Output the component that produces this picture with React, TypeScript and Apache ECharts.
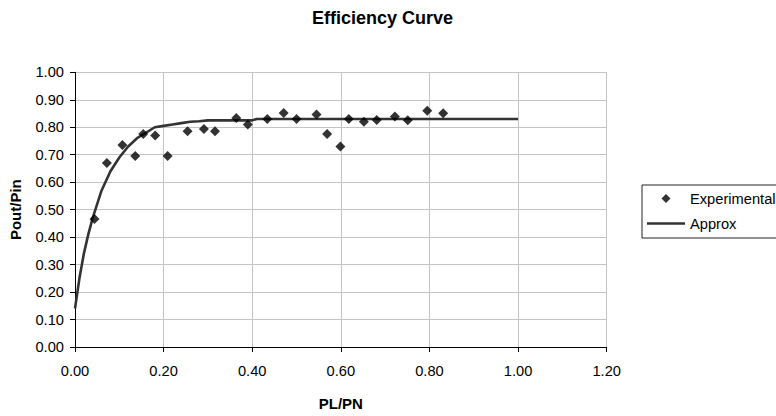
import React, { useEffect, useRef } from "react";
import * as echarts from "echarts";

const chartTitle = "Efficiency Curve";
const xAxisName = "PL/PN";
const yAxisName = "Pout/Pin";

const expX = [0.044, 0.072, 0.107, 0.136, 0.154, 0.181, 0.209, 0.254, 0.291, 0.316, 0.364, 0.39, 0.434, 0.471, 0.5, 0.545, 0.569, 0.599, 0.618, 0.652, 0.681, 0.722, 0.751, 0.795, 0.831];
const expY = [0.466, 0.67, 0.735, 0.695, 0.775, 0.77, 0.695, 0.785, 0.794, 0.785, 0.834, 0.81, 0.83, 0.852, 0.83, 0.846, 0.775, 0.73, 0.83, 0.82, 0.826, 0.839, 0.825, 0.86, 0.851];

const approxX = [0, 0.01, 0.02, 0.03, 0.04, 0.05, 0.06, 0.08, 0.1, 0.12, 0.14, 0.16, 0.18, 0.2, 0.22, 0.24, 0.26, 0.28, 0.3, 0.35, 0.4, 0.41, 0.5, 0.6, 0.7, 0.8, 0.9, 1.0];
const approxY = [0.14, 0.25, 0.34, 0.41, 0.47, 0.52, 0.57, 0.64, 0.69, 0.73, 0.76, 0.78, 0.8, 0.805, 0.81, 0.815, 0.82, 0.822, 0.825, 0.825, 0.825, 0.83, 0.83, 0.83, 0.83, 0.83, 0.83, 0.83];

const FONT = "Liberation Sans, Arial, sans-serif";
const FS = 14.67;

export default function App() {
  const ref = useRef<HTMLDivElement>(null);
  useEffect(() => {
    if (!ref.current) return;
    const chart = echarts.init(ref.current, null, { renderer: "svg" });
    chart.setOption({
      animation: false,
      backgroundColor: "#ffffff",
      textStyle: { fontFamily: FONT },
      title: {
        text: chartTitle,
        left: 312,
        top: 9,
        padding: 0,
        textStyle: { fontFamily: FONT, fontSize: 18, fontWeight: "bold", color: "#000" },
      },
      grid: { left: 72.7, right: 169.3, top: 72.3, bottom: 61.7, containLabel: false },
      legend: {
        orient: "vertical",
        left: 642,
        top: 185,
        itemWidth: 38,
        itemHeight: 9,
        itemGap: 10,
        padding: [6, 12, 7, 5],
        borderColor: "#222",
        borderWidth: 1,
        borderRadius: 0,
        symbolKeepAspect: true,
        textStyle: { fontFamily: FONT, fontSize: FS, color: "#000" },
        data: [
          { name: "Experimental", icon: "path://M5,0 L10,5 L5,10 L0,5 Z", itemStyle: { color: "#000" } },
          { name: "Approx", icon: "path://M0,0 L40,0 L40,2.6 L0,2.6 Z", itemStyle: { color: "#333" } },
        ],
      },
      xAxis: {
        type: "value",
        min: 0,
        max: 1.2,
        interval: 0.2,
        name: xAxisName,
        nameLocation: "middle",
        nameGap: 49,
        nameTextStyle: { fontFamily: FONT, fontSize: 15, fontWeight: "bold", color: "#000" },
        axisLine: { lineStyle: { color: "#000", width: 1 } },
        axisTick: { show: true, inside: false, length: 5, lineStyle: { color: "#000" } },
        axisLabel: { color: "#000", fontSize: FS, margin: 16, formatter: (v: number) => v.toFixed(2) },
        splitLine: { show: true, lineStyle: { color: "#c4c4c4", width: 1 } },
      },
      yAxis: {
        type: "value",
        min: 0,
        max: 1,
        interval: 0.1,
        name: yAxisName,
        nameLocation: "middle",
        nameGap: 52,
        nameRotate: 90,
        nameTextStyle: { fontFamily: FONT, fontSize: 15, fontWeight: "bold", color: "#000" },
        axisLine: { show: true, lineStyle: { color: "#000", width: 1 } },
        axisTick: { show: true, inside: false, length: 5, lineStyle: { color: "#000" } },
        axisLabel: { color: "#000", fontSize: FS, margin: 11, formatter: (v: number) => v.toFixed(2) },
        splitLine: { show: true, lineStyle: { color: "#c4c4c4", width: 1 } },
      },
      series: [
        {
          name: "Experimental",
          type: "scatter",
          symbol: "diamond",
          symbolSize: 10,
          itemStyle: { color: "#000" },
          data: expX.map((x, i) => [x, expY[i]]),
          z: 3,
        },
        {
          name: "Approx",
          type: "line",
          showSymbol: false,
          symbol: "none",
          lineStyle: { color: "#333333", width: 2.6 },
          itemStyle: { color: "#333333" },
          data: approxX.map((x, i) => [x, approxY[i]]),
          z: 2,
        },
      ],
    });
    return () => chart.dispose();
  }, []);
  return <div ref={ref} style={{ width: 776, height: 416, position: "fixed", left: 0, top: 0 }} />;
}
